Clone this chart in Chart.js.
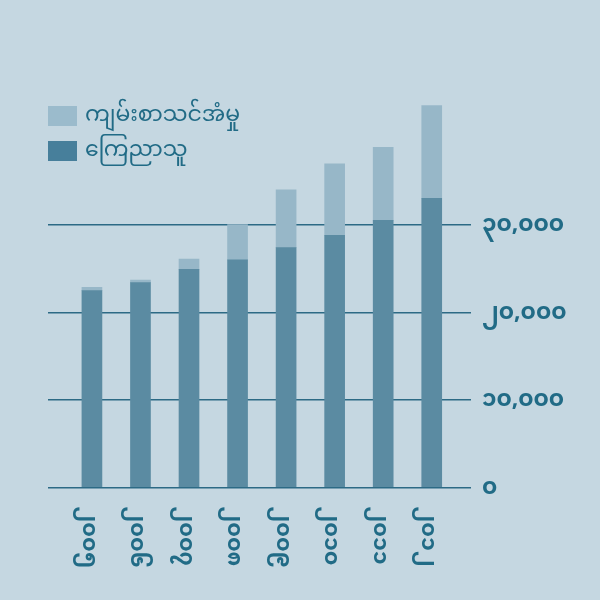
<!DOCTYPE html>
<html>
<head>
<meta charset="utf-8">
<script src="https://cdn.jsdelivr.net/npm/chart.js@4"></script>
<style>
  html, body { margin: 0; padding: 0; background: #c5d7e1; }
  #wrap { width: 600px; height: 600px; }
</style>
</head>
<body>
<div id="wrap"><canvas id="Chart" width="600" height="600"></canvas></div>
<script>
const years = ['၂၀၀၅', '၂၀၀၆', '၂၀၀၇', '၂၀၀၈', '၂၀၀၉', '၂၀၁၀', '၂၀၁၁', '၂၀၁၂'];
const publishers = [22470, 23380, 24910, 25980, 27380, 28800, 30510, 33030];
const studies = [390, 310, 1180, 4030, 6600, 8150, 8350, 10580];
const yTickValues = [0, 10000, 20000, 30000];
const yTickLabels = ['၀', '၁၀,၀၀၀', '၂၀,၀၀၀', '၃၀,၀၀၀'];
const seriesNames = ['ကျမ်းစာသင်အံမှု', 'ကြေညာသူ'];

const FONT = "'Noto Sans Myanmar', 'Padauk', 'Myanmar Text', 'Noto Sans', sans-serif";
const TEXT = '#216b86';

const bgPlugin = {
    id: 'bg',
    beforeDraw(chart) {
        const c = chart.ctx;
        c.save();
        c.fillStyle = '#c5d7e1';
        c.fillRect(0, 0, chart.width, chart.height);
        c.restore();
    }
};

// year labels hang under the bars, turned clockwise
const xLabelPlugin = {
    id: 'xlabels',
    afterDraw(chart) {
        const c = chart.ctx;
        const x = chart.scales.x;
        c.save();
        c.fillStyle = TEXT;
        c.font = 'bold 22px ' + FONT;
        c.textAlign = 'left';
        c.textBaseline = 'middle';
        years.forEach((label, i) => {
            c.save();
            c.translate(x.getPixelForValue(i) - 7, chart.chartArea.bottom + 19);
            c.rotate(Math.PI / 2);
            c.fillText(label, 0, 0);
            c.restore();
        });
        c.restore();
    }
};

const legendPlugin = {
    id: 'keys',
    afterDraw(chart) {
        const c = chart.ctx;
        const boxes = ['#9bbbcc', '#477f9b'];
        c.save();
        c.font = '22px ' + FONT;
        c.textAlign = 'left';
        c.textBaseline = 'middle';
        seriesNames.forEach((name, i) => {
            const top = 106 + i * 35;
            c.fillStyle = boxes[i];
            c.fillRect(48, top, 29, 20);
            c.fillStyle = TEXT;
            c.fillText(name, 85, top + 13);
        });
        c.restore();
    }
};

const ctx = document.getElementById('Chart').getContext('2d');
new Chart(ctx, {
    type: 'bar',
    data: {
        datasets: [
            {
                label: seriesNames[1],
                data: publishers.map((v, i) => ({ x: i, y: v })),
                backgroundColor: '#5b8ba2',
                barThickness: 20
            },
            {
                label: seriesNames[0],
                data: studies.map((v, i) => ({ x: i, y: v })),
                backgroundColor: '#97b7c8',
                barThickness: 20
            }
        ]
    },
    options: {
        responsive: false,
        animation: false,
        layout: { padding: { left: 48, top: 93.5, bottom: 112.7, right: 0 } },
        plugins: { legend: { display: false }, tooltip: { enabled: false } },
        scales: {
            x: {
                type: 'linear',
                display: false,
                offset: false,
                stacked: true,
                min: -0.905,
                max: 7.5
            },
            y: {
                position: 'right',
                stacked: true,
                min: 0,
                max: 45000,
                z: 1,
                afterFit(scale) { scale.width = 144; },
                afterBuildTicks(scale) {
                    scale.ticks = yTickValues.map(v => ({ value: v }));
                },
                border: { display: false },
                grid: {
                    color: '#2c6a85',
                    lineWidth: 1.5,
                    tickLength: 15
                },
                ticks: {
                    padding: 11,
                    labelOffset: 4,
                    color: TEXT,
                    font: { family: FONT, size: 23, weight: 'bold' },
                    callback: (v) => yTickLabels[yTickValues.indexOf(v)]
                }
            }
        }
    },
    plugins: [bgPlugin, xLabelPlugin, legendPlugin]
});
</script>
</body>
</html>
